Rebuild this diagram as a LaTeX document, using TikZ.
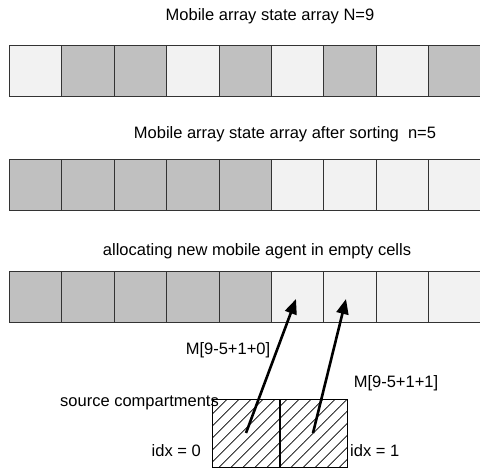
\documentclass[tikz,border=0pt]{standalone}
\usepackage{fontspec}
\setmainfont{Liberation Sans}
\usetikzlibrary{arrows.meta,patterns.meta}
\definecolor{cfull}{HTML}{C0C0C0}
\definecolor{cempty}{HTML}{F2F2F2}
\tikzset{
  cell/.style={draw=black!80, line width=0.8pt, minimum width=52.4pt, minimum height=51pt, inner sep=0pt, anchor=north west},
  full/.style={cell, fill=cfull},
  empty/.style={cell, fill=cempty},
  src/.style={draw=black, line width=0.8pt, pattern={Lines[angle=45,distance=8.5pt,line width=0.7pt]}, minimum width=67.5pt, minimum height=68pt, inner sep=0pt, anchor=north west},
  lbl/.style={font=\fontsize{16.5}{19}\selectfont, inner sep=0pt},
  ptr/.style={line width=2.6pt, -{Triangle[length=15pt,width=12pt]}}
}
\begin{document}
\begin{tikzpicture}[x=1pt,y=-1pt]
\useasboundingbox (0,0) rectangle (480,470);
% titles
\node[lbl] (t1) at (270,16) {Mobile array state array N=9};
\node[lbl] (t2) at (285,134) {Mobile array state array after sorting\ \ n=5};
\node[lbl] (t3) at (257,251) {allocating new mobile agent in empty cells};
% row 1
\foreach \i/\s in {0/empty,1/full,2/full,3/empty,4/full,5/empty,6/full,7/empty,8/full}{
  \node[\s] (a\i) at ({9+\i*52.4},45) {};
}
% row 2
\foreach \i/\s in {0/full,1/full,2/full,3/full,4/full,5/empty,6/empty,7/empty,8/empty}{
  \node[\s] (b\i) at ({9+\i*52.4},159) {};
}
% row 3
\foreach \i/\s in {0/full,1/full,2/full,3/full,4/full,5/empty,6/empty,7/empty,8/empty}{
  \node[\s] (c\i) at ({9+\i*52.4},271) {};
}
% source compartments
\node[src] (s0) at (212,399) {};
\node[src] (s1) at (279.5,399) {};
\node[lbl, anchor=west] (sl) at (60,403) {source compartments};
\node[lbl, anchor=east] (i0) at (201,451) {idx = 0};
\node[lbl, anchor=west] (i1) at (350,451) {idx = 1};
\node[lbl] (m0) at (228,350) {M[9-5+1+0]};
\node[lbl] (m1) at (396,383) {M[9-5+1+1]};
% pointers
\coordinate (p0) at (246,433);
\coordinate (p1) at (313,433);
\coordinate (q0) at (296,299);
\coordinate (q1) at (346,299);
\draw[ptr] (p0) -- (q0);
\draw[ptr] (p1) -- (q1);
\end{tikzpicture}
\end{document}
